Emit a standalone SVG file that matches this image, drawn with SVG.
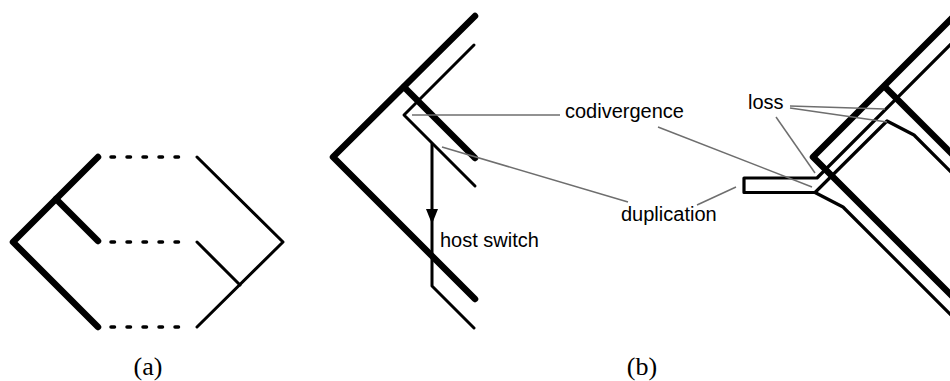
<svg xmlns="http://www.w3.org/2000/svg" width="950" height="381" viewBox="0 0 950 381">
  <style>
    .host { fill: none; stroke: #000; stroke-width: 6.5; stroke-linecap: round; stroke-linejoin: round; }
    .para { fill: none; stroke: #000; stroke-width: 3; stroke-linecap: round; stroke-linejoin: round; }
    .tube { fill: none; stroke: #000; stroke-width: 3.2; stroke-linecap: butt; stroke-linejoin: round; }
    .dots { fill: none; stroke: #000; stroke-width: 3.5; stroke-linecap: round; stroke-dasharray: 3.5 12.5; }
    .lead { fill: none; stroke: #6e6e6e; stroke-width: 1.5; }
    .label { font-family: "Liberation Sans", Arial, sans-serif; font-size: 20px; fill: #000; }
    .cap { font-family: "Liberation Serif", "Times New Roman", serif; font-size: 26px; fill: #000; text-anchor: middle; }
  </style>

  <!-- (a) host tree, parasite tree and associations -->
  <g id="a-host">
    <path class="host" d="M98,157 L13,242 L98,327"/>
    <path class="host" d="M56,199 L98,241"/>
  </g>
  <g id="a-parasite">
    <path class="para" d="M197,157 L283,242 L197,327"/>
    <path class="para" d="M197,242 L240,285"/>
  </g>
  <g id="a-links">
    <path class="dots" d="M111,157 H181"/>
    <path class="dots" d="M111,242 H181"/>
    <path class="dots" d="M111,327 H181"/>
  </g>
  <text class="cap" x="148" y="375">(a)</text>

  <!-- (b) left: host tree with parasite lineages beside it -->
  <g id="b-host">
    <path class="host" d="M475,16 L333,157 L475,299"/>
    <path class="host" d="M404,87 L475,158"/>
  </g>
  <g id="b-parasite">
    <path class="para" d="M474,45 L404,115 L475,186"/>
    <!-- host switch: vertical jump with arrowhead -->
    <path class="para" d="M432,144 V286 L474,328"/>
    <polygon points="426,209 438,209 432,224" fill="#000"/>
  </g>

  <!-- (b) right: parasite drawn as a tube around the host tree -->
  <g id="b-host-right">
    <path class="host" d="M955,15 L813,157 L955,299"/>
    <path class="host" d="M885,87 L955,157"/>
  </g>
  <g id="b-parasite-right">
    <path class="tube" d="M960,35 L817,178 H744 V192.5 H815 L843,207 L960,324"/>
    <path class="tube" d="M815,192.5 L887,121 L914,135 L960,181"/>
  </g>

  <!-- annotation leaders -->
  <g id="leaders">
    <path class="lead" d="M412,115 H560"/>
    <path class="lead" d="M658,127 L812,187"/>
    <path class="lead" d="M442,147 L628,202"/>
    <path class="lead" d="M697,205 L736,187"/>
    <path class="lead" d="M790,106 L885,109"/>
    <path class="lead" d="M790,108 L887,122"/>
    <path class="lead" d="M776,117 L815,173"/>
  </g>

  <g id="labels">
    <text class="label" x="565" y="118">codivergence</text>
    <text class="label" x="621" y="221">duplication</text>
    <text class="label" x="440" y="247">host switch</text>
    <text class="label" x="748" y="109">loss</text>
  </g>
  <text class="cap" x="642" y="375">(b)</text>
</svg>
